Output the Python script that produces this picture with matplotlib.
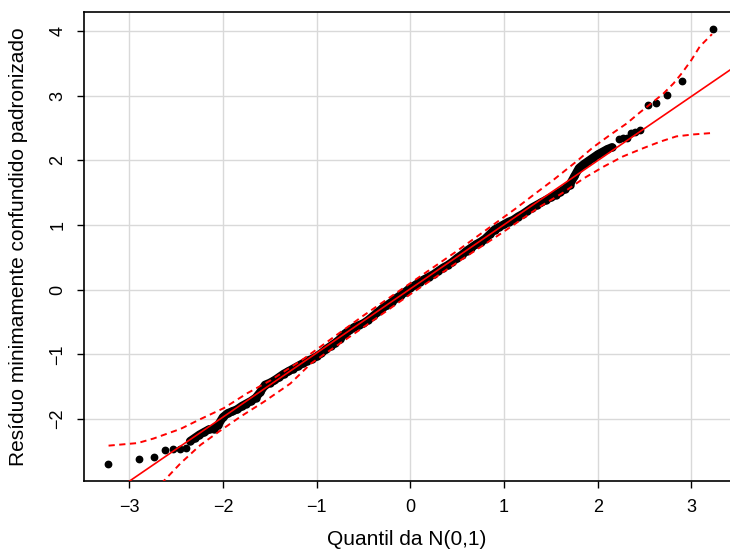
import numpy as np
import matplotlib.pyplot as plt

plt.rcParams['font.family'] = ['Liberation Sans', 'DejaVu Sans']

# pontos isolados nas caudas (quantil teórico, resíduo)
tail_x = [-3.223, -2.895, -2.732, -2.618, -2.532, -2.457, -2.397,
          2.231, 2.273, 2.309, 2.352, 2.398, 2.451, 2.534, 2.622, 2.736, 2.900, 3.227]
tail_y = [-2.694, -2.612, -2.586, -2.478, -2.462, -2.462, -2.447,
          2.330, 2.340, 2.350, 2.427, 2.442, 2.468, 2.860, 2.886, 3.009, 3.230, 4.034]

# corpo denso dos pontos
body_x = [-2.35, -2.30, -2.25, -2.20, -2.15, -2.10, -2.05, -2.00, -1.95, -1.90,
          -1.85, -1.80, -1.75, -1.70, -1.65, -1.60, -1.55, -1.50, -1.45, -1.40,
          -1.35, -1.30, -1.25, -1.20, -1.15, -1.10, -1.05, -1.00, -0.95, -0.90,
          -0.85, -0.80, -0.75, -0.70, -0.65, -0.60, -0.55, -0.50, -0.45, -0.40,
          -0.35, -0.30, -0.25, -0.20, -0.15, -0.10, -0.05, 0.00, 0.05, 0.10,
          0.15, 0.20, 0.25, 0.30, 0.35, 0.40, 0.45, 0.50, 0.55, 0.60,
          0.65, 0.70, 0.75, 0.80, 0.85, 0.90, 0.95, 1.00, 1.05, 1.10,
          1.15, 1.20, 1.25, 1.30, 1.35, 1.40, 1.45, 1.50, 1.55, 1.60,
          1.65, 1.70, 1.75, 1.80, 1.85, 1.90, 1.95, 2.00, 2.05, 2.10, 2.15]
body_y = [-2.34, -2.29, -2.24, -2.20, -2.16, -2.15, -2.09, -1.97, -1.91, -1.88,
          -1.85, -1.80, -1.76, -1.72, -1.67, -1.58, -1.47, -1.44, -1.40, -1.35,
          -1.30, -1.26, -1.22, -1.18, -1.14, -1.10, -1.07, -1.03, -0.98, -0.92,
          -0.87, -0.82, -0.76, -0.68, -0.63, -0.58, -0.55, -0.52, -0.47, -0.41,
          -0.35, -0.29, -0.24, -0.19, -0.13, -0.08, -0.03, 0.03, 0.07, 0.12,
          0.16, 0.20, 0.24, 0.29, 0.34, 0.38, 0.43, 0.49, 0.54, 0.60,
          0.65, 0.70, 0.74, 0.79, 0.86, 0.93, 0.97, 1.01, 1.05, 1.08,
          1.13, 1.17, 1.22, 1.27, 1.31, 1.35, 1.39, 1.43, 1.47, 1.51,
          1.56, 1.62, 1.75, 1.88, 1.94, 1.99, 2.04, 2.09, 2.13, 2.17, 2.20]

# reta de referência
line_x = [-3.479, 3.412]
line_y = [-3.436, 3.396]

# envelope de confiança
up_x = [-3.22, -2.91, -2.74, -2.45, -2.24, -1.99, -1.74, -1.49, -1.13, -0.50,
        0.00, 0.50, 1.13, 1.31, 1.53, 1.78, 1.95, 2.13, 2.31, 2.45, 2.58, 2.70,
        2.81, 2.90, 3.00, 3.09, 3.22]
up_y = [-2.41, -2.37, -2.30, -2.15, -2.00, -1.83, -1.60, -1.40, -1.06, -0.40,
        0.10, 0.60, 1.26, 1.46, 1.70, 1.99, 2.20, 2.39, 2.57, 2.74, 2.89, 3.03,
        3.19, 3.35, 3.55, 3.76, 3.95]
lo_x = [-2.66, -2.45, -2.24, -2.02, -1.81, -1.56, -1.28, -1.06, -0.50, 0.00,
        0.50, 1.00, 1.38, 1.63, 1.85, 2.06, 2.27, 2.49, 2.67, 2.84, 3.02, 3.20]
lo_y = [-3.00, -2.68, -2.40, -2.17, -1.96, -1.73, -1.45, -1.14, -0.58, -0.07,
        0.42, 0.90, 1.28, 1.50, 1.72, 1.90, 2.06, 2.19, 2.29, 2.37, 2.40, 2.42]

fig = plt.figure(figsize=(7.3, 5.52), dpi=100)
ax = fig.add_axes([84.3 / 730, 1 - 481.3 / 552, (730 - 84.3) / 730, (481.3 - 11.7) / 552])

ax.grid(True, color='#d9d9d9', linewidth=1.0)
ax.set_axisbelow(True)

ax.plot(body_x, body_y, color='black', linewidth=6.0, solid_capstyle='round', zorder=2)
ax.plot(body_x, body_y, 'o', color='black', markersize=5.0, zorder=2)
ax.plot(tail_x, tail_y, 'o', color='black', markersize=4.6, zorder=2)

ax.plot(line_x, line_y, color='red', linewidth=1.2, zorder=3)
ax.plot(up_x, up_y, color='red', linewidth=1.4, linestyle=(0, (3.2, 2.3)), zorder=3)
ax.plot(lo_x, lo_y, color='red', linewidth=1.4, linestyle=(0, (3.2, 2.3)), zorder=3)

ax.set_xlim(-3.479, 3.412)
ax.set_ylim(-2.961, 4.297)
ax.set_xticks([-3, -2, -1, 0, 1, 2, 3])
ax.set_yticks([-2, -1, 0, 1, 2, 3, 4])
ax.tick_params(axis='both', direction='out', length=5, width=1, labelsize=13, pad=8)
for lab in ax.get_yticklabels():
    lab.set_rotation(90)
    lab.set_va('center')

ax.spines['right'].set_visible(False)
for s in ['left', 'top', 'bottom']:
    ax.spines[s].set_linewidth(1.2)

ax.set_xlabel('Quantil da N(0,1)', fontsize=15, labelpad=10)
ax.set_ylabel('Resíduo minimamente confundido padronizado', fontsize=15, labelpad=15)

plt.savefig('out.png', dpi=100)
